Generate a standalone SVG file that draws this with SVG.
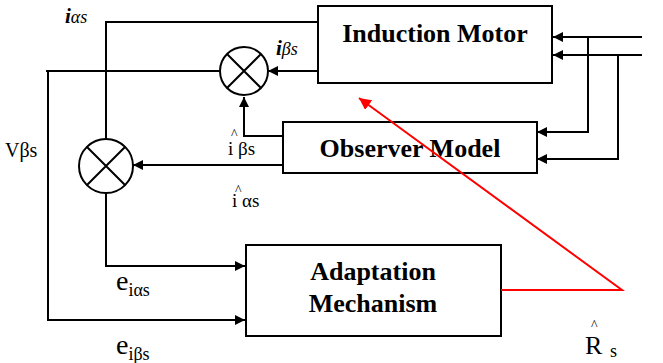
<svg xmlns="http://www.w3.org/2000/svg" width="663" height="363" viewBox="0 0 663 363">
  <style>
    .box { fill: #fff; stroke: #000; stroke-width: 2; }
    .wire { fill: none; stroke: #000; stroke-width: 2; }
    .sum { fill: #fff; stroke: #000; stroke-width: 2; }
    .red { fill: none; stroke: #ff0000; stroke-width: 2; }
    text { font-family: 'Liberation Serif', 'Times New Roman', serif; fill: #000; }
    .title { font-weight: bold; font-size: 26px; text-anchor: middle; }
    .hat { font-size: 14px; }
  </style>
  <defs>
    <marker id="arr" viewBox="0 0 10 10" refX="10" refY="5" markerWidth="10" markerHeight="10" markerUnits="userSpaceOnUse" orient="auto">
      <path d="M0,0 L10,5 L0,10 Z" fill="#000"/>
    </marker>
    <marker id="arrRed" viewBox="0 0 10 10" refX="10" refY="5" markerWidth="12" markerHeight="12" markerUnits="userSpaceOnUse" orient="auto">
      <path d="M0,0 L10,5 L0,10 Z" fill="#ff0000"/>
    </marker>
  </defs>

  <g id="induction-motor">
    <rect class="box" x="318" y="6" width="234" height="77"/>
    <text class="title" x="435" y="42">Induction Motor</text>
  </g>

  <g id="observer-model">
    <rect class="box" x="283" y="122" width="254" height="51"/>
    <text class="title" x="410" y="157">Observer Model</text>
  </g>

  <g id="adaptation-mechanism">
    <rect class="box" x="246" y="245" width="255" height="91"/>
    <text class="title" x="373" y="280">Adaptation</text>
    <text class="title" x="373" y="312">Mechanism</text>
  </g>

  <g id="connectors">
    <!-- i_alpha_s feedback to lower summing junction -->
    <path class="wire" d="M318,22 H106 V139"/>
    <!-- i_beta_s into upper summing junction -->
    <path class="wire" d="M318,71 H268" marker-end="url(#arr)"/>
    <!-- upper junction output down to adaptation -->
    <path class="wire" d="M220,71 H46 M48,71 V320 H245" marker-end="url(#arr)"/>
    <!-- observer i_beta estimate up to upper junction -->
    <path class="wire" d="M283,136 H244 V97" marker-end="url(#arr)"/>
    <!-- observer i_alpha estimate to lower junction -->
    <path class="wire" d="M283,165 H133" marker-end="url(#arr)"/>
    <!-- lower junction output to adaptation -->
    <path class="wire" d="M106,193 V266 H245" marker-end="url(#arr)"/>
    <!-- voltage inputs -->
    <path class="wire" d="M642,37 H553" marker-end="url(#arr)"/>
    <path class="wire" d="M642,55 H553" marker-end="url(#arr)"/>
    <path class="wire" d="M588,37 V132 H537" marker-end="url(#arr)"/>
    <path class="wire" d="M618,55 V159 H537" marker-end="url(#arr)"/>
    <!-- estimated stator resistance fed back -->
    <path class="red" d="M501,290 H622 L359,98" marker-end="url(#arrRed)"/>
  </g>

  <g id="sum-beta">
    <circle class="sum" cx="244" cy="71" r="24"/>
    <path class="wire" d="M227,54 L261,88 M261,54 L227,88"/>
  </g>

  <g id="sum-alpha">
    <circle class="sum" cx="106" cy="166" r="27"/>
    <path class="wire" d="M87,147 L125,185 M125,147 L87,185"/>
  </g>

  <g id="labels">
    <text x="65" y="23" font-style="italic"><tspan font-weight="bold" font-size="21">i</tspan><tspan font-size="18">αs</tspan></text>
    <text x="276" y="55" font-style="italic"><tspan font-weight="bold" font-size="21">i</tspan><tspan font-size="18">βs</tspan></text>
    <text x="5" y="157" font-size="20">Vβs</text>
    <text font-size="19"><tspan class="hat" x="231" y="139">^</tspan><tspan x="228" y="155">i βs</tspan></text>
    <text font-size="19"><tspan class="hat" x="235" y="195">^</tspan><tspan x="232" y="207">i αs</tspan></text>
    <text x="116" y="290" font-size="28">e<tspan font-size="18" dy="6">iαs</tspan></text>
    <text x="116" y="354" font-size="28">e<tspan font-size="18" dy="6">iβs</tspan></text>
    <text font-size="26"><tspan class="hat" x="591" y="330">^</tspan><tspan x="585" y="354">R</tspan><tspan font-size="18" x="610" y="357">s</tspan></text>
  </g>
</svg>
